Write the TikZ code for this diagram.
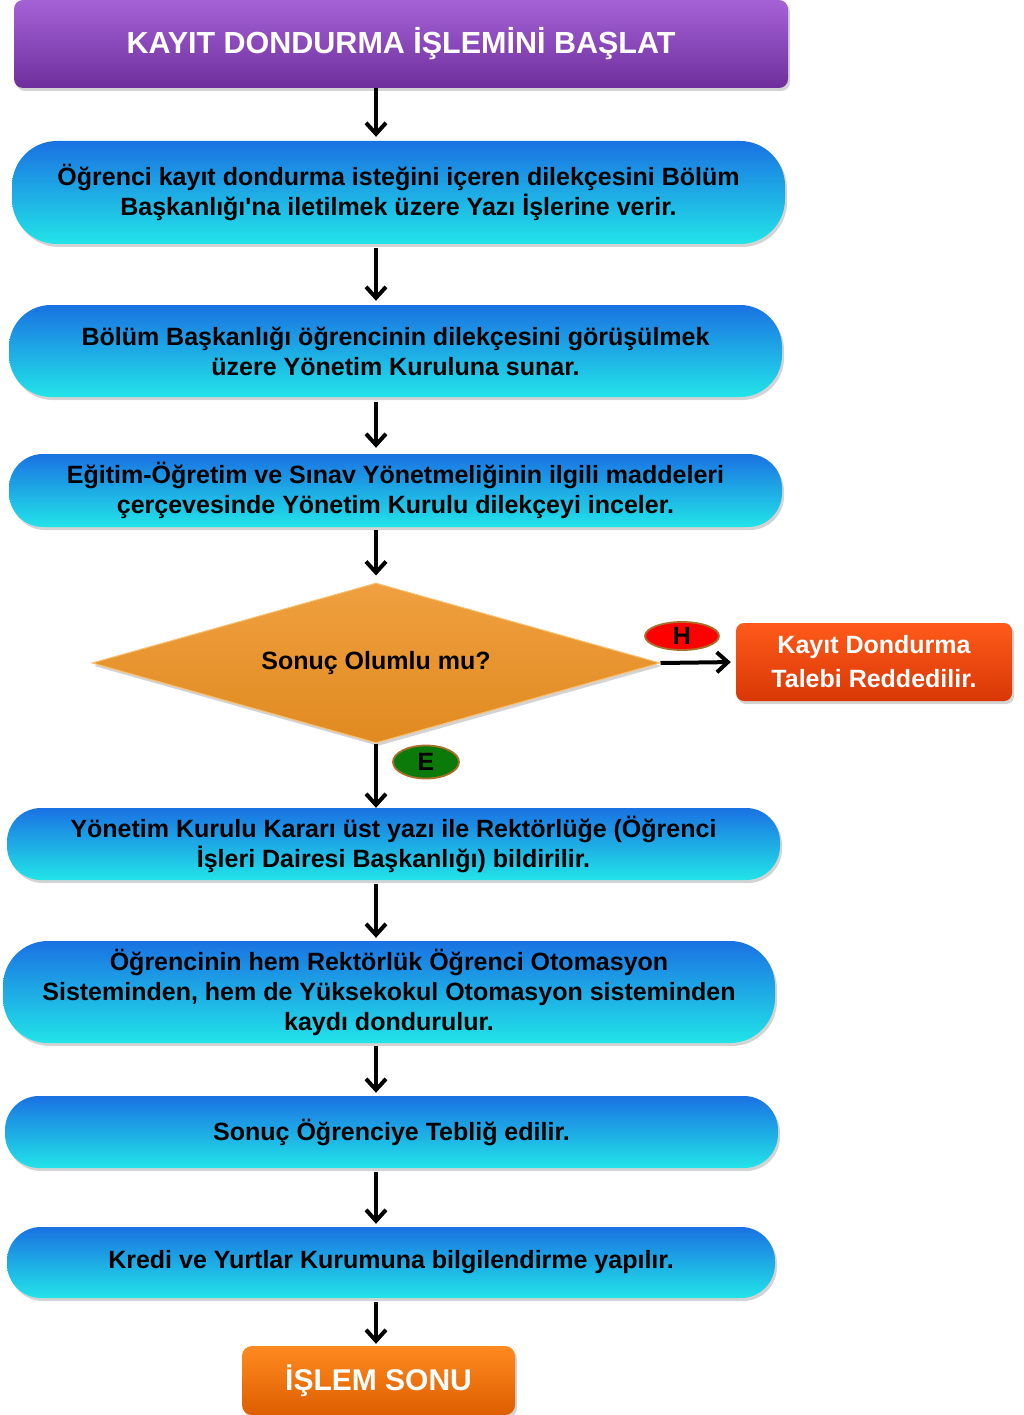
\documentclass[tikz,border=0pt]{standalone}
\usepackage{fontspec}
\setmainfont{Liberation Sans}[Ligatures=TeXOff]
\usetikzlibrary{shapes.geometric,shadows,arrows.meta}
\definecolor{bTop}{HTML}{1A72E2}
\definecolor{bMid}{HTML}{17B0F0}
\definecolor{bBot}{HTML}{22E4E8}
\definecolor{pTop}{HTML}{A562D6}
\definecolor{pMid}{HTML}{7C3AAA}
\definecolor{pBot}{HTML}{6E2F9C}
\definecolor{oTop}{HTML}{F0A040}
\definecolor{oBot}{HTML}{E08A20}
\definecolor{oEdge}{HTML}{F7C070}
\definecolor{rTop}{HTML}{FF5A1A}
\definecolor{rBot}{HTML}{D83806}
\definecolor{eTop}{HTML}{FF8A20}
\definecolor{eBot}{HTML}{DD5E00}
\definecolor{brd}{HTML}{A8702A}
\definecolor{gfill}{HTML}{0B7A0B}
\begin{document}
\begin{tikzpicture}[x=1pt,y=-1pt,
  shad/.style={drop shadow={opacity=0.35,shadow xshift=2pt,shadow yshift=-3pt}},
  flow/.style={rectangle, rounded corners=35pt, top color=bTop, middle color=bMid, bottom color=bBot,
    shad, align=center, inner sep=0pt, minimum width=773pt,
    font=\bfseries\fontsize{25}{30}\selectfont, text=black},
  arr/.style={line width=4pt, -{Straight Barb[length=11pt,width=20pt]}},
  tag/.style={ellipse, draw=brd, line width=1.8pt, inner sep=0pt,
    font=\bfseries\fontsize{25}{26}\selectfont, text=black}
]
\useasboundingbox (0,0) rectangle (1023,1415);

\node[rectangle, rounded corners=9pt, top color=pTop, middle color=pMid, bottom color=pBot, shad,
  minimum width=774pt, minimum height=88pt, inner sep=0pt, text=white,
  font=\bfseries\fontsize{30.5}{34}\selectfont] (top) at (401,44) {KAYIT DONDURMA İŞLEMİNİ BAŞLAT};

\node[flow, minimum height=103pt, rounded corners=45pt] (b1) at (398.5,192.5)
  {Öğrenci kayıt dondurma isteğini içeren dilekçesini Bölüm\\Başkanlığı'na iletilmek üzere Yazı İşlerine verir.};

\node[flow, minimum height=92pt, rounded corners=42pt] (b2) at (395.5,351)
  {Bölüm Başkanlığı öğrencinin dilekçesini görüşülmek\\üzere Yönetim Kuruluna sunar.};

\node[flow, minimum height=73pt, rounded corners=34pt] (b3) at (395.5,490.5)
  {Eğitim-Öğretim ve Sınav Yönetmeliğinin ilgili maddeleri\\çerçevesinde Yönetim Kurulu dilekçeyi inceler.};

\node[diamond, aspect=3.55, minimum width=568pt, minimum height=160pt, inner sep=0pt,
  top color=oTop, bottom color=oBot, draw=oEdge, line width=1pt, shad,
  font=\bfseries\fontsize{25}{28}\selectfont] (dia) at (376,663) {Sonuç Olumlu mu?};

\node[rectangle, rounded corners=8pt, top color=rTop, bottom color=rBot, shad,
  minimum width=276pt, minimum height=78pt, inner sep=0pt, align=center, text=white,
  font=\bfseries\fontsize{25}{34}\selectfont] (rej) at (874,662) {Kayıt Dondurma\\Talebi Reddedilir.};

\node[flow, minimum height=72pt, rounded corners=34pt] (b4) at (393.5,844)
  {Yönetim Kurulu Kararı üst yazı ile Rektörlüğe (Öğrenci\\İşleri Dairesi Başkanlığı) bildirilir.};

\node[flow, minimum height=102pt, minimum width=772pt, rounded corners=45pt] (b5) at (389,992)
  {Öğrencinin hem Rektörlük Öğrenci Otomasyon\\Sisteminden, hem de Yüksekokul Otomasyon sisteminden\\kaydı dondurulur.};

\node[flow, minimum height=72pt, rounded corners=34pt] (b6) at (391.5,1132)
  {Sonuç Öğrenciye Tebliğ edilir.};

\node[flow, minimum height=71pt, minimum width=768pt, rounded corners=34pt] (b7) at (391,1262.5)
  {Kredi ve Yurtlar Kurumuna bilgilendirme yapılır.};

\node[rectangle, rounded corners=10pt, top color=eTop, bottom color=eBot, shad,
  minimum width=273pt, minimum height=69pt, inner sep=0pt, text=white,
  font=\bfseries\fontsize{30}{32}\selectfont] (end) at (378.5,1380.5) {İŞLEM SONU};

\node[tag, fill=red, minimum width=74pt, minimum height=28pt] (h) at (682,636) {H};
\node[tag, fill=gfill, minimum width=66pt, minimum height=33pt] (e) at (426,762) {E};

\draw[arr] (top.south -| dia.north) -- ([yshift=4pt]b1.north -| dia.north);
\draw[arr] ([yshift=-4pt]b1.south -| dia.north) -- ([yshift=4pt]b2.north -| dia.north);
\draw[arr] ([yshift=-5pt]b2.south -| dia.north) -- ([yshift=6pt]b3.north -| dia.north);
\draw[arr] ([yshift=-3pt]b3.south -| dia.north) -- ([yshift=7pt]dia.north);
\draw[arr, shorten >=5pt] (dia.east) -- (rej.west);
\draw[arr] (dia.south) -- (b4.north -| dia.south);
\draw[arr] ([yshift=-4pt]b4.south -| dia.north) -- ([yshift=3pt]b5.north -| dia.north);
\draw[arr] ([yshift=-3pt]b5.south -| dia.north) -- ([yshift=3pt]b6.north -| dia.north);
\draw[arr] ([yshift=-4pt]b6.south -| dia.north) -- ([yshift=3pt]b7.north -| dia.north);
\draw[arr] ([yshift=-4pt]b7.south -| dia.north) -- ([yshift=2pt]end.north -| dia.north);
\end{tikzpicture}
\end{document}
